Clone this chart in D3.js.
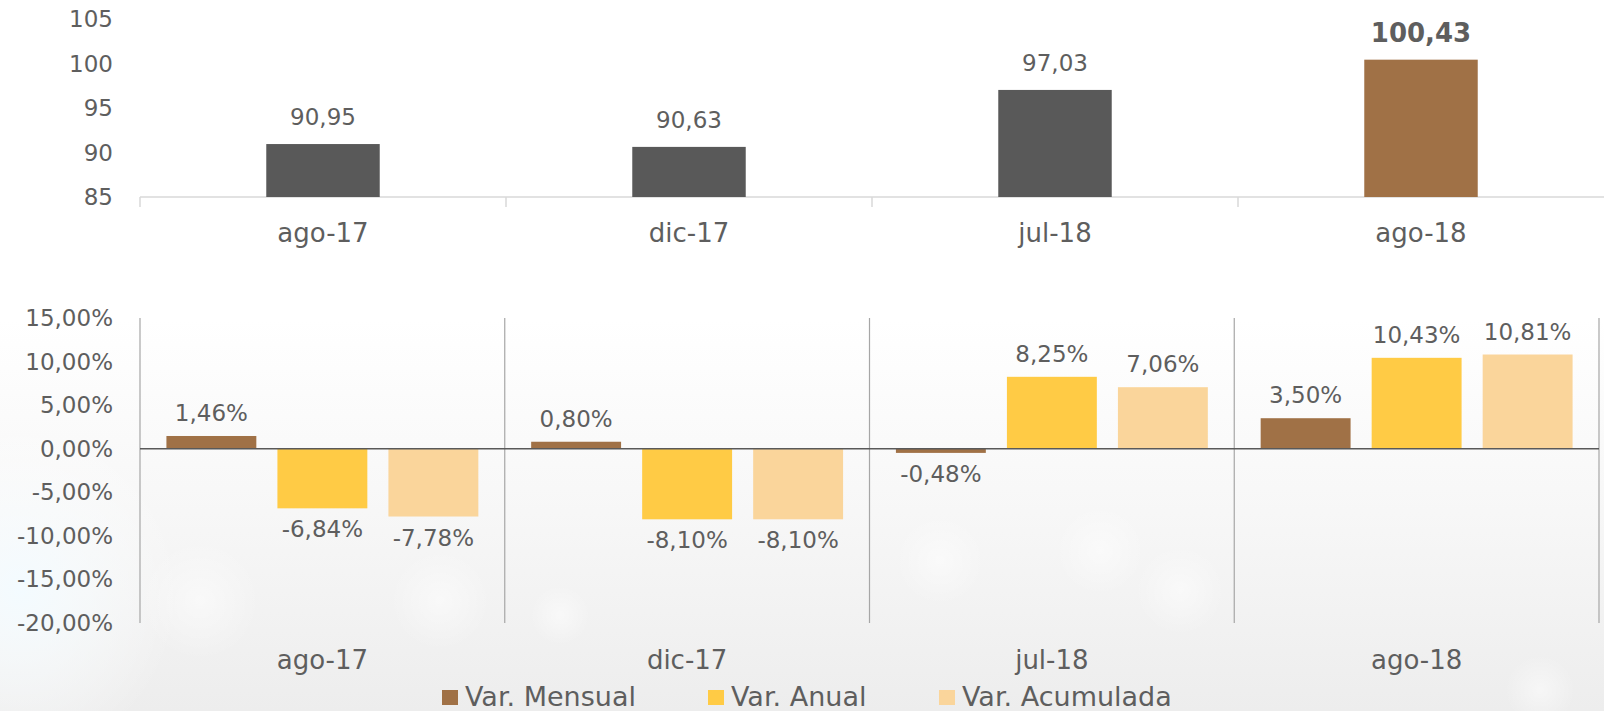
<!DOCTYPE html>
<html>
<head>
<meta charset="utf-8">
<script src="https://cdn.jsdelivr.net/npm/d3@7"></script>
<style>
  body { margin: 0; background: #fff; }
  text { font-family: "DejaVu Sans", sans-serif; fill: #5e5e5e; }
</style>
</head>
<body>
<div id="chart"></div>
<script>
const width = 1604,
  height = 711;

// data
const categories = ["ago-17", "dic-17", "jul-18", "ago-18"];
const indexValues = [90.95, 90.63, 97.03, 100.43];
const indexTicks = [85, 90, 95, 100, 105];

const series = ["Var. Mensual", "Var. Anual", "Var. Acumulada"];
const varMensual = [1.46, 0.80, -0.48, 3.50];
const varAnual = [-6.84, -8.10, 8.25, 10.43];
const varAcumulada = [-7.78, -8.10, 7.06, 10.81];
const pctTicks = [-20, -15, -10, -5, 0, 5, 10, 15];

const colors = ["#A07146", "#FFCB45", "#FAD59B"];
const fmt = v => v.toFixed(2).replace(".", ",");

const svg = d3.select("#chart")
  .append("svg")
  .attr("width", width)
  .attr("height", height);

// soft background
const defs = svg.append("defs");
const grad = defs.append("linearGradient")
  .attr("id", "bg")
  .attr("x1", 0).attr("y1", 0).attr("x2", 0).attr("y2", 1);
grad.append("stop").attr("offset", "0%").attr("stop-color", "#ffffff");
grad.append("stop").attr("offset", "45%").attr("stop-color", "#ffffff");
grad.append("stop").attr("offset", "72%").attr("stop-color", "#f7f7f7");
grad.append("stop").attr("offset", "100%").attr("stop-color", "#ededed");
svg.append("rect").attr("width", width).attr("height", height).attr("fill", "url(#bg)");

const side = defs.append("radialGradient").attr("id", "side");
side.append("stop").attr("offset", "0%").attr("stop-color", "#f3fbff").attr("stop-opacity", 1);
side.append("stop").attr("offset", "100%").attr("stop-color", "#ffffff").attr("stop-opacity", 0);
svg.append("ellipse")
  .attr("cx", 20).attr("cy", 590).attr("rx", 160).attr("ry", 170)
  .attr("fill", "url(#side)");

const glow = defs.append("radialGradient").attr("id", "glow");
glow.append("stop").attr("offset", "0%").attr("stop-color", "#ffffff").attr("stop-opacity", 0.5);
glow.append("stop").attr("offset", "100%").attr("stop-color", "#ffffff").attr("stop-opacity", 0);
const bokeh = [[200, 600, 60], [440, 600, 50], [560, 615, 30], [1100, 550, 45], [1180, 590, 45], [1540, 690, 35], [940, 560, 45]];
svg.selectAll(".bokeh")
  .data(bokeh)
  .join("circle")
  .attr("class", "bokeh")
  .attr("cx", d => d[0])
  .attr("cy", d => d[1])
  .attr("r", d => d[2])
  .attr("fill", "url(#glow)");

// ---- top chart ----
const xTop = d3.scaleBand()
  .domain(categories)
  .range([140, 1604])
  .padding(0);

const yTop = d3.scaleLinear()
  .domain([85, 105])
  .range([197, 19]);

const barW = xTop.bandwidth() * 0.31;

svg.append("g")
  .selectAll("text")
  .data(indexTicks)
  .join("text")
  .attr("x", 113)
  .attr("y", d => yTop(d))
  .attr("dy", "0.35em")
  .attr("text-anchor", "end")
  .attr("font-size", 23)
  .text(d => d);

svg.append("line")
  .attr("x1", 140).attr("x2", 1604)
  .attr("y1", yTop(85)).attr("y2", yTop(85))
  .attr("stroke", "#d9d9d9").attr("stroke-width", 1.5);

svg.append("g")
  .selectAll("line")
  .data(categories.map((c, i) => 140 + i * xTop.step()))
  .join("line")
  .attr("x1", d => d).attr("x2", d => d)
  .attr("y1", yTop(85)).attr("y2", yTop(85) + 10)
  .attr("stroke", "#d9d9d9").attr("stroke-width", 1.5);

svg.append("g")
  .selectAll("rect")
  .data(categories)
  .join("rect")
  .attr("x", d => xTop(d) + (xTop.bandwidth() - barW) / 2)
  .attr("width", barW)
  .attr("y", (d, i) => yTop(indexValues[i]))
  .attr("height", (d, i) => yTop(85) - yTop(indexValues[i]))
  .attr("fill", (d, i) => i === categories.length - 1 ? colors[0] : "#595959");

svg.append("g")
  .selectAll("text")
  .data(categories)
  .join("text")
  .attr("x", d => xTop(d) + xTop.bandwidth() / 2)
  .attr("y", (d, i) => yTop(indexValues[i]) - 27)
  .attr("dy", "0.35em")
  .attr("text-anchor", "middle")
  .attr("font-size", (d, i) => i === categories.length - 1 ? 26 : 23)
  .attr("font-weight", (d, i) => i === categories.length - 1 ? "bold" : "normal")
  .text((d, i) => fmt(indexValues[i]));

svg.append("g")
  .selectAll("text")
  .data(categories)
  .join("text")
  .attr("x", d => xTop(d) + xTop.bandwidth() / 2)
  .attr("y", 233)
  .attr("dy", "0.35em")
  .attr("text-anchor", "middle")
  .attr("font-size", 26)
  .text(d => d);

// ---- bottom chart ----
const x0 = d3.scaleBand()
  .domain(categories)
  .range([140, 1599])
  .padding(0);

const x1 = d3.scaleBand()
  .domain(series)
  .range([0, x0.bandwidth()])
  .paddingInner(0.19)
  .paddingOuter(0.238);

const y = d3.scaleLinear()
  .domain([-20, 15])
  .range([623, 318]);

svg.append("g")
  .selectAll("text")
  .data(pctTicks)
  .join("text")
  .attr("x", 113)
  .attr("y", d => y(d))
  .attr("dy", "0.35em")
  .attr("text-anchor", "end")
  .attr("font-size", 23)
  .text(d => fmt(d) + "%");

// vertical separators
svg.append("g")
  .selectAll("line")
  .data(d3.range(categories.length + 1).map(i => 140 + i * x0.step()))
  .join("line")
  .attr("x1", d => d).attr("x2", d => d)
  .attr("y1", y(15)).attr("y2", y(-20))
  .attr("stroke", "#a6a6a6").attr("stroke-width", 1.2);

const rows = categories.map((c, i) => ({
  cat: c,
  values: [varMensual[i], varAnual[i], varAcumulada[i]]
}));

const groups = svg.append("g")
  .selectAll("g")
  .data(rows)
  .join("g")
  .attr("transform", d => `translate(${x0(d.cat)},0)`);

groups.selectAll("rect")
  .data(d => d.values.map((v, j) => ({ key: series[j], v: v, j: j })))
  .join("rect")
  .attr("x", d => x1(d.key))
  .attr("width", x1.bandwidth())
  .attr("y", d => y(Math.max(0, d.v)))
  .attr("height", d => Math.abs(y(d.v) - y(0)))
  .attr("fill", d => colors[d.j]);

groups.selectAll("text")
  .data(d => d.values.map((v, j) => ({ key: series[j], v: v, j: j })))
  .join("text")
  .attr("x", d => x1(d.key) + x1.bandwidth() / 2)
  .attr("y", d => d.v >= 0 ? y(d.v) - 23 : y(d.v) + 21)
  .attr("dy", "0.35em")
  .attr("text-anchor", "middle")
  .attr("font-size", 23)
  .text(d => fmt(d.v) + "%");

svg.append("line")
  .attr("x1", 140).attr("x2", 1599)
  .attr("y1", y(0)).attr("y2", y(0))
  .attr("stroke", "#595959").attr("stroke-width", 1.5);

svg.append("g")
  .selectAll("text")
  .data(categories)
  .join("text")
  .attr("x", d => x0(d) + x0.bandwidth() / 2)
  .attr("y", 660)
  .attr("dy", "0.35em")
  .attr("text-anchor", "middle")
  .attr("font-size", 26)
  .text(d => d);

// legend
const legendX = [442, 708, 939];
const legend = svg.append("g")
  .selectAll("g")
  .data(series)
  .join("g")
  .attr("transform", (d, i) => `translate(${legendX[i]},697)`);

legend.append("rect")
  .attr("x", 0).attr("y", -7)
  .attr("width", 16).attr("height", 15)
  .attr("fill", (d, i) => colors[i]);

legend.append("text")
  .attr("x", 23)
  .attr("dy", "0.35em")
  .attr("font-size", 27)
  .text(d => d);
</script>
</body>
</html>
